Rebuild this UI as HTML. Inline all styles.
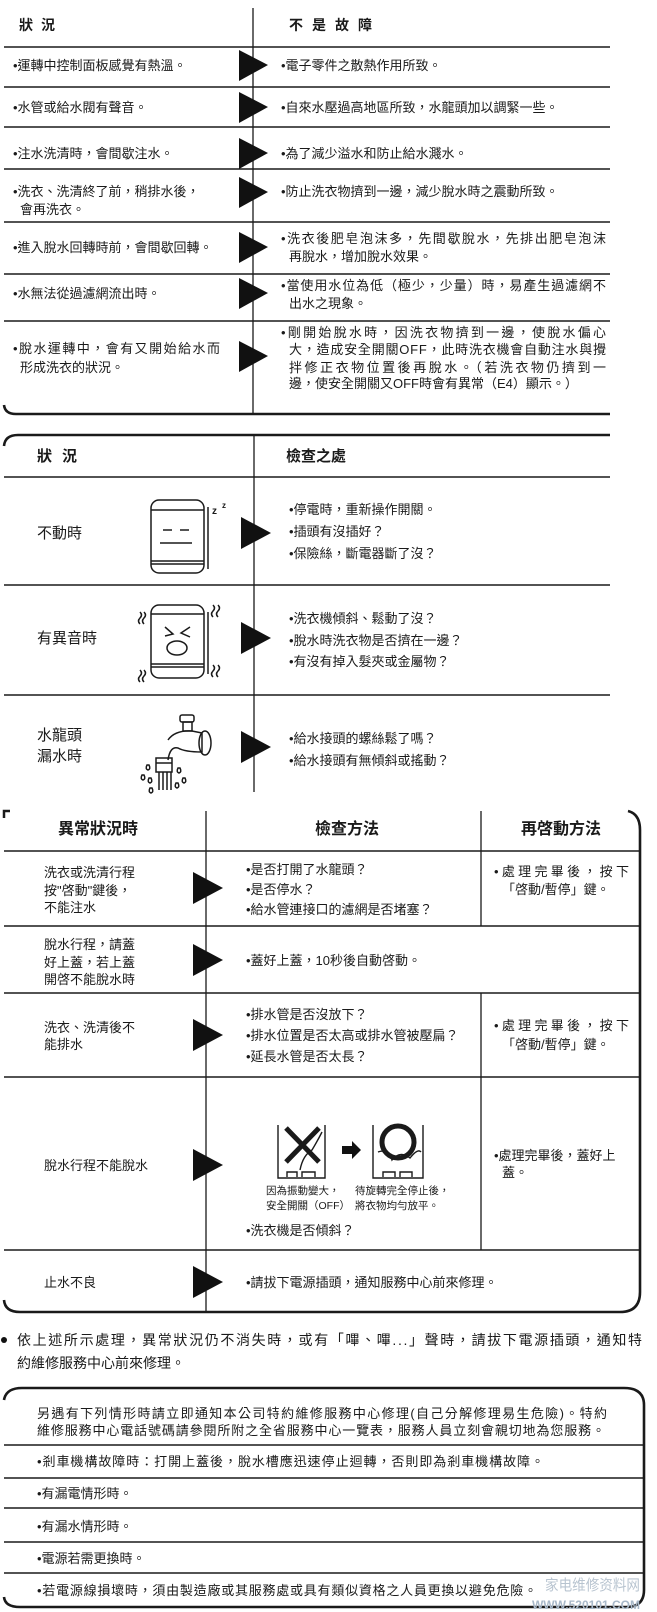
<!DOCTYPE html>
<html><head><meta charset="utf-8"><style>
html,body{margin:0;padding:0;background:#fff;}
svg{display:block;}
text{font-family:"Liberation Sans","Noto Sans CJK TC","WenQuanYi Zen Hei",sans-serif;fill:#1a1a1a;}
</style></head><body>
<svg width="657" height="1612" viewBox="0 0 657 1612" xmlns="http://www.w3.org/2000/svg">
<g stroke="#1a1a1a" fill="none">
<line x1="253" y1="8" x2="253" y2="413" stroke-width="1.3"/>
<g stroke-width="1.6">
<line x1="4" y1="47" x2="610" y2="47"/>
<line x1="4" y1="87" x2="610" y2="87"/>
<line x1="4" y1="127" x2="610" y2="127"/>
<line x1="4" y1="169" x2="610" y2="169"/>
<line x1="4" y1="222" x2="610" y2="222"/>
<line x1="4" y1="274" x2="610" y2="274"/>
<line x1="4" y1="321" x2="610" y2="321"/>
</g>
<path d="M4 405 Q5 414 16 414 L610 414" stroke-width="2.6"/>
<path d="M4 446 Q5 435 18 435 L610 435" stroke-width="2.6"/>
<line x1="254" y1="435" x2="254" y2="792" stroke-width="1.3"/>
<g stroke-width="1.6">
<line x1="4" y1="477" x2="610" y2="477"/>
<line x1="4" y1="585" x2="610" y2="585"/>
<line x1="4" y1="695" x2="610" y2="695"/>
</g>
<g stroke-width="1.5">
<rect x="151" y="500" width="53" height="73" rx="8"/>
<line x1="151" y1="510" x2="204" y2="510"/>
<line x1="151" y1="561" x2="204" y2="561"/>
<line x1="151" y1="564" x2="204" y2="564"/>
<line x1="208" y1="507" x2="208" y2="569"/>
<line x1="163" y1="530" x2="172" y2="530"/>
<line x1="180" y1="530" x2="189" y2="530"/>
<line x1="160" y1="543" x2="192" y2="543"/>
</g>
<g stroke-width="1.5">
<rect x="151" y="605" width="53" height="73" rx="8"/>
<line x1="151" y1="614" x2="204" y2="614"/>
<line x1="151" y1="664" x2="204" y2="664"/>
<line x1="151" y1="667" x2="204" y2="667"/>
<line x1="208" y1="612" x2="208" y2="674"/>
<path d="M165 627 L173 634 L165 636 M190 627 L181 633 L190 637"/>
<ellipse cx="177" cy="648" rx="10" ry="7"/>
<path d="M140 612 q3 3 0 6 q-3 3 0 6 M144 612 q3 3 0 6 q-3 3 0 6"/>
<path d="M213 605 q3 3 0 6 q-3 3 0 6 M218 605 q3 3 0 6 q-3 3 0 6"/>
<path d="M140 670 q3 3 0 6 q-3 3 0 6 M144 670 q3 3 0 6 q-3 3 0 6"/>
<path d="M213 665 q3 3 0 6 q-3 3 0 6 M218 665 q3 3 0 6 q-3 3 0 6"/>
</g>
<g stroke-width="1.5">
<rect x="180" y="715" width="14" height="7" rx="2"/>
<rect x="183" y="722" width="9" height="9"/>
<path d="M168 740 Q175 730 192 731 L202 733 L202 752 Q185 752 178 748 Q170 746 168 760"/>
<ellipse cx="205" cy="743" rx="6" ry="12"/>
<rect x="156" y="758" width="16" height="14"/>
<line x1="156" y1="763" x2="172" y2="763"/>
<path d="M159 772 V790 M163 772 V790 M167 772 V790 M171 772 V790"/>
<path d="M147 765 q-2 4 1 5 q3-1 1-5z M142 775 q-2 4 1 5 q3-1 1-5z M149 778 q-2 4 1 5 q3-1 1-5z M178 768 q-2 4 1 5 q3-1 1-5z M183 778 q-2 4 1 5 q3-1 1-5z M176 783 q-2 4 1 5 q3-1 1-5z M150 788 q-2 4 1 5 q3-1 1-5z"/>
</g>
<path d="M4 818 L4 811 L10 811" stroke-width="2.5"/>
<path d="M628 811 Q640 814 640 830 L640 1292 Q640 1312 620 1312 L20 1312 Q5 1312 4 1300" stroke-width="2.6"/>
<line x1="206" y1="811" x2="206" y2="1312" stroke-width="1.3"/>
<line x1="481" y1="811" x2="481" y2="926" stroke-width="1.3"/>
<line x1="481" y1="993" x2="481" y2="1250" stroke-width="1.3"/>
<g stroke-width="1.6">
<line x1="4" y1="851" x2="640" y2="851"/>
<line x1="4" y1="926" x2="640" y2="926"/>
<line x1="4" y1="993" x2="640" y2="993"/>
<line x1="4" y1="1077" x2="640" y2="1077"/>
<line x1="4" y1="1250" x2="640" y2="1250"/>
</g>
<g stroke-width="1.4">
<path d="M278 1125 V1178 H325 V1125"/>
<path d="M373 1125 V1178 H423 V1125"/>
<path d="M287 1177 V1172 H297 V1177 M302 1177 V1172 H315 V1177"/>
<path d="M383 1177 V1172 H395 V1177 M400 1177 V1172 H412 V1177"/>
<path d="M300 1170 Q303 1155 312 1150 Q318 1140 322 1132"/>
<path d="M378 1152 Q388 1148 392 1160 Q400 1150 410 1158 Q418 1148 421 1152"/>
<circle cx="398" cy="1142" r="16" stroke-width="5"/>
<path d="M286 1128 L319 1162 M319 1128 L286 1162" stroke-width="5"/>
</g>
<path d="M4 1400 Q6 1388 22 1388 L624 1388 Q644 1388 644 1405 L644 1590 Q644 1607 626 1607 L20 1607 Q5 1607 4 1597" stroke-width="2.6"/>
<g stroke-width="1.6">
<line x1="4" y1="1445" x2="644" y2="1445"/>
<line x1="4" y1="1478" x2="644" y2="1478"/>
<line x1="4" y1="1508" x2="644" y2="1508"/>
<line x1="4" y1="1542" x2="644" y2="1542"/>
<line x1="4" y1="1573" x2="644" y2="1573"/>
</g>
</g>
<g fill="#111">
<polygon points="239,50 268,65 239,81"/>
<polygon points="239,92 268,107 239,123"/>
<polygon points="239,138 268,153 239,169"/>
<polygon points="239,177 268,192 239,208"/>
<polygon points="239,232 268,247 239,263"/>
<polygon points="239,278 268,293 239,309"/>
<polygon points="239,341 268,356 239,372"/>
<polygon points="241,517 271,533 241,549"/>
<polygon points="241,622 271,638 241,654"/>
<polygon points="241,731 271,747 241,763"/>
<polygon points="193,872 223,888 193,904"/>
<polygon points="193,944 223,960 193,976"/>
<polygon points="193,1019 223,1035 193,1051"/>
<polygon points="193,1149 223,1165 193,1181"/>
<polygon points="193,1266 223,1282 193,1298"/>
<polygon points="342,1146 352,1146 352,1141 361,1150 352,1159 352,1154 342,1154"/>
<circle cx="4" cy="1340" r="3"/>
</g>
<g font-size="14" font-weight="bold">
<text x="19" y="30" letter-spacing="8">狀況</text>
<text x="289" y="30" letter-spacing="9">不是故障</text>
</g>
<g font-size="13">
<text x="13" y="70">•運轉中控制面板感覺有熱溫。</text>
<text x="281" y="70">•電子零件之散熱作用所致。</text>
<text x="13" y="112">•水管或給水閥有聲音。</text>
<text x="281" y="112">•自來水壓過高地區所致，水龍頭加以調緊一些。</text>
<text x="13" y="158">•注水洗清時，會間歇注水。</text>
<text x="281" y="158">•為了減少溢水和防止給水濺水。</text>
<text x="13" y="196">•洗衣、洗清終了前，稍排水後，</text>
<text x="20" y="214">會再洗衣。</text>
<text x="281" y="196">•防止洗衣物擠到一邊，減少脫水時之震動所致。</text>
<text x="13" y="252">•進入脫水回轉時前，會間歇回轉。</text>
<text x="281" y="243" textLength="325" lengthAdjust="spacing">•洗衣後肥皂泡沫多，先間歇脫水，先排出肥皂泡沫</text>
<text x="289" y="261">再脫水，增加脫水效果。</text>
<text x="13" y="298">•水無法從過濾網流出時。</text>
<text x="281" y="290" textLength="325" lengthAdjust="spacing">•當使用水位為低（極少，少量）時，易產生過濾網不</text>
<text x="289" y="308">出水之現象。</text>
<text x="13" y="353" textLength="207" lengthAdjust="spacing">•脫水運轉中，會有又開始給水而</text>
<text x="20" y="372">形成洗衣的狀況。</text>
<text x="281" y="337" textLength="325" lengthAdjust="spacing">•剛開始脫水時，因洗衣物擠到一邊，使脫水偏心</text>
<text x="289" y="354" textLength="317" lengthAdjust="spacing">大，造成安全開關OFF，此時洗衣機會自動注水與攪</text>
<text x="289" y="372" textLength="317" lengthAdjust="spacing">拌修正衣物位置後再脫水。（若洗衣物仍擠到一</text>
<text x="289" y="388">邊，使安全開關又OFF時會有異常（E4）顯示。）</text>
</g>
<g font-size="15">
<text x="37" y="461" letter-spacing="10" font-weight="bold">狀況</text>
<text x="286" y="461" font-weight="bold">檢查之處</text>
<text x="37" y="538">不動時</text>
<text x="37" y="643">有異音時</text>
<text x="37" y="740">水龍頭</text>
<text x="37" y="761">漏水時</text>
</g>
<text x="212" y="514" font-size="10" font-weight="bold">z</text>
<text x="222" y="508" font-size="8" font-weight="bold">z</text>
<g font-size="13">
<text x="289" y="514">•停電時，重新操作開關。</text>
<text x="289" y="536">•插頭有沒插好？</text>
<text x="289" y="558">•保險絲，斷電器斷了沒？</text>
<text x="289" y="623">•洗衣機傾斜、鬆動了沒？</text>
<text x="289" y="645">•脫水時洗衣物是否擠在一邊？</text>
<text x="289" y="666">•有沒有掉入髮夾或金屬物？</text>
<text x="289" y="743">•給水接頭的螺絲鬆了嗎？</text>
<text x="289" y="765">•給水接頭有無傾斜或搖動？</text>
</g>
<g font-size="16" text-anchor="middle" font-weight="bold">
<text x="98" y="834">異常狀況時</text>
<text x="347" y="834">檢查方法</text>
<text x="561" y="834">再啓動方法</text>
</g>
<g font-size="13">
<text x="44" y="877">洗衣或洗清行程</text>
<text x="44" y="895">按"啓動"鍵後，</text>
<text x="44" y="912">不能注水</text>
<text x="246" y="874">•是否打開了水龍頭？</text>
<text x="246" y="894">•是否停水？</text>
<text x="246" y="914">•給水管連接口的濾網是否堵塞？</text>
<text x="494" y="876" textLength="135" lengthAdjust="spacing">•處理完畢後，按下</text>
<text x="502" y="894">「啓動/暫停」鍵。</text>
<text x="44" y="949">脫水行程，請蓋</text>
<text x="44" y="967">好上蓋，若上蓋</text>
<text x="44" y="984">開啓不能脫水時</text>
<text x="246" y="965">•蓋好上蓋，10秒後自動啓動。</text>
<text x="44" y="1032">洗衣、洗清後不</text>
<text x="44" y="1049">能排水</text>
<text x="246" y="1019">•排水管是否沒放下？</text>
<text x="246" y="1040">•排水位置是否太高或排水管被壓扁？</text>
<text x="246" y="1061">•延長水管是否太長？</text>
<text x="494" y="1030" textLength="135" lengthAdjust="spacing">•處理完畢後，按下</text>
<text x="502" y="1049">「啓動/暫停」鍵。</text>
<text x="44" y="1170">脫水行程不能脫水</text>
<text x="246" y="1235">•洗衣機是否傾斜？</text>
<text x="494" y="1160">•處理完畢後，蓋好上</text>
<text x="502" y="1177">蓋。</text>
<text x="44" y="1287">止水不良</text>
<text x="246" y="1287">•請拔下電源插頭，通知服務中心前來修理。</text>
</g>
<g font-size="10.5">
<text x="266" y="1194">因為振動變大，</text>
<text x="266" y="1209">安全開關（OFF）</text>
<text x="355" y="1194">待旋轉完全停止後，</text>
<text x="355" y="1209">將衣物均勻放平。</text>
</g>
<g font-size="14">
<text x="17" y="1345" textLength="625" lengthAdjust="spacing">依上述所示處理，異常狀況仍不消失時，或有「嗶、嗶...」聲時，請拔下電源插頭，通知特</text>
<text x="17" y="1368">約維修服務中心前來修理。</text>
</g>
<g font-size="13">
<text x="37" y="1418" textLength="570" lengthAdjust="spacing">另遇有下列情形時請立即通知本公司特約維修服務中心修理(自己分解修理易生危險)。特約</text>
<text x="37" y="1435" textLength="568" lengthAdjust="spacing">維修服務中心電話號碼請參閱所附之全省服務中心一覽表，服務人員立刻會親切地為您服務。</text>
<text x="37" y="1466" textLength="507" lengthAdjust="spacing">•剎車機構故障時：打開上蓋後，脫水槽應迅速停止迴轉，否則即為剎車機構故障。</text>
<text x="37" y="1498">•有漏電情形時。</text>
<text x="37" y="1531">•有漏水情形時。</text>
<text x="37" y="1563">•電源若需更換時。</text>
<text x="37" y="1595" textLength="500" lengthAdjust="spacing">•若電源線損壞時，須由製造廠或其服務處或具有類似資格之人員更換以避免危險。</text>
</g>
<text x="640" y="1590" font-size="15" text-anchor="end" textLength="95" lengthAdjust="spacingAndGlyphs" style="fill:#b8c4d0">家电维修资料网</text>
<text x="640" y="1609" font-size="12" font-weight="bold" text-anchor="end" style="fill:#a8b8c8">WWW.520101.COM</text>
</svg>
</body></html>
